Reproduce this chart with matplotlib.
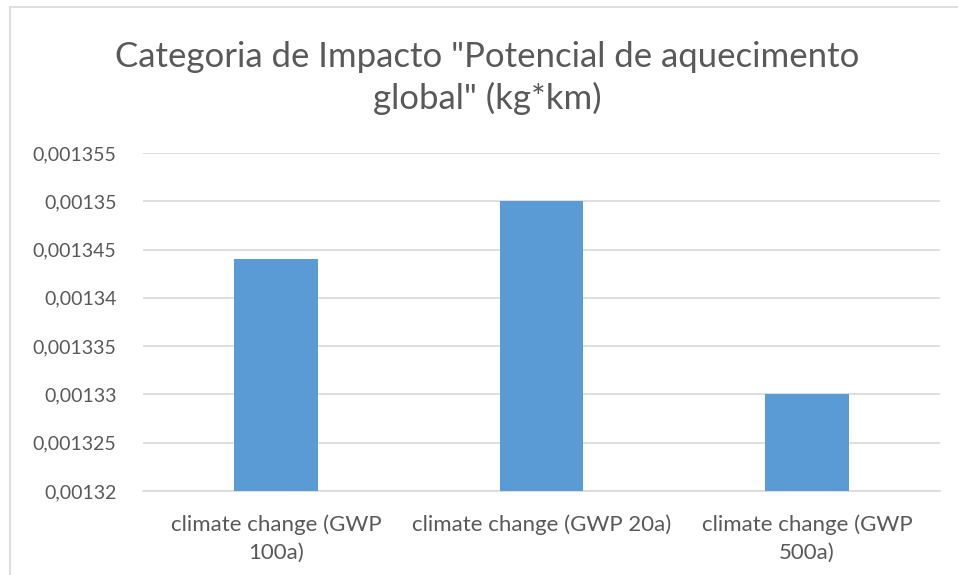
import matplotlib
matplotlib.use('Agg')
import matplotlib.pyplot as plt
from matplotlib.lines import Line2D
from matplotlib.ticker import FuncFormatter, MultipleLocator

categories = ['climate change (GWP\n100a)', 'climate change (GWP 20a)', 'climate change (GWP\n500a)']
values = [0.001344, 0.00135, 0.00133]
title = 'Categoria de Impacto "Potencial de aquecimento\nglobal" (kg*km)'

TXT = '#595959'
GRID = '#d9d9d9'
BAR = '#5b9bd5'
plt.rcParams['font.family'] = ['Lato', 'DejaVu Sans']

W, H = 958, 575
fig = plt.figure(figsize=(W / 100, H / 100), dpi=100)
ax = fig.add_axes([143 / W, 1 - 491 / H, (940 - 143) / W, (491 - 153) / H])

xs = range(len(values))
ax.bar(xs, values, width=0.316, color=BAR, zorder=3)
ax.set_xlim(-0.5, len(values) - 0.5)
ax.set_ylim(0.00132, 0.001355)
ax.yaxis.set_major_locator(MultipleLocator(0.000005))
ax.yaxis.set_major_formatter(FuncFormatter(
    lambda v, _: f"{v:.6f}".rstrip('0').replace('.', ',')))
ax.grid(axis='y', color=GRID, linewidth=1.2, zorder=0)
for s in ['top', 'right', 'left']:
    ax.spines[s].set_visible(False)
ax.spines['bottom'].set_color(GRID)
ax.spines['bottom'].set_linewidth(1.2)
ax.set_xticks(list(xs))
ax.set_xticklabels(categories, ha='center', linespacing=1.45)
ax.tick_params(axis='both', length=0, colors=TXT)
ax.tick_params(axis='y', labelsize=14, pad=19)
ax.tick_params(axis='x', labelsize=16, pad=17)

fig.text(487 / W, 1 - 78 / H, title, ha='center', va='center', fontsize=25,
         color=TXT, linespacing=1.35)

# chart area border (runs off the right and bottom edges)
fig.add_artist(Line2D([9.5 / W, 9.5 / W], [0, 1 - 6.5 / H], transform=fig.transFigure,
                      color=GRID, linewidth=1.2))
fig.add_artist(Line2D([9.5 / W, 1], [1 - 6.5 / H, 1 - 6.5 / H], transform=fig.transFigure,
                      color=GRID, linewidth=1.2))

fig.savefig('out.png', dpi=100)
